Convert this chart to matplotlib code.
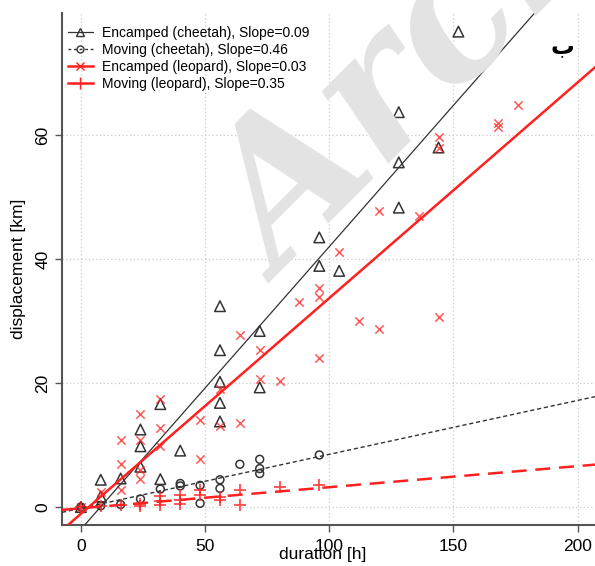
import matplotlib
matplotlib.use('Agg')
import matplotlib.pyplot as plt
from matplotlib.lines import Line2D
import numpy as np

plt.rcParams['font.family'] = ['Liberation Sans', 'DejaVu Sans']

# Datos

# Encamped (cheetah) - triangulos
dur_enc_cheetah = [0, 8, 8, 16, 24, 24, 24, 32, 32, 40, 56, 56, 56, 56, 56,
                   72, 72, 96, 96, 104, 128, 128, 128, 144, 152]
disp_enc_cheetah = [0, 4.4, 1.7, 4.6, 12.5, 9.8, 6.5, 16.6, 4.5, 9.1, 32.4, 25.3,
                    20.2, 16.8, 13.8, 28.4, 19.3, 43.5, 38.9, 38.1, 63.7, 55.6,
                    48.3, 58.0, 76.7]

# Moving (cheetah) - circulos
dur_mov_cheetah = [0, 8, 16, 24, 32, 40, 40, 48, 48, 56, 56, 64, 72, 72, 72, 96]
disp_mov_cheetah = [0, 0.2, 0.4, 1.3, 2.9, 3.8, 3.4, 3.5, 0.6, 4.4, 3.0, 6.9,
                    7.7, 6.2, 5.4, 8.4]

# Encamped (leopard) - x
dur_enc_leopard = [0, 8, 16, 16, 16, 24, 24, 24, 24, 32, 32, 32, 48, 48, 56, 56,
                   64, 64, 72, 72, 80, 88, 96, 96, 96, 104, 112, 120, 120, 136,
                   144, 144, 144, 168, 168, 176]
disp_enc_leopard = [0, 2.5, 10.8, 6.9, 2.7, 15.0, 10.8, 6.0, 4.5, 17.4, 12.7,
                    9.8, 14.1, 7.7, 19.1, 13.0, 27.7, 13.6, 25.3, 20.6, 20.3,
                    33.0, 35.4, 33.9, 24.0, 41.1, 30.0, 47.7, 28.8, 46.9, 59.7,
                    58.0, 30.7, 62.0, 61.3, 64.8]

# Moving (leopard) - +
dur_mov_leopard = [0, 8, 16, 24, 24, 32, 32, 32, 40, 40, 40, 48, 48, 56, 56,
                   64, 64, 80, 96]
disp_mov_leopard = [0, 0.1, 0.4, 0.5, 0.1, 1.7, 1.0, 0.3, 2.0, 1.2, 0.5, 2.7,
                    1.9, 1.6, 1.1, 2.7, 0.3, 3.3, 3.5]

# Rectas ajustadas (pendiente, intercepto)
pendientes = [0.456, 0.087, 0.348, 0.034]
interceptos = [-3.6, -0.2, -1.1, -0.2]

etiquetas = ['Encamped (cheetah), Slope=0.09',
             'Moving (cheetah), Slope=0.46',
             'Encamped (leopard), Slope=0.03',
             'Moving (leopard), Slope=0.35']

x_ticks = [0, 50, 100, 150, 200]
y_ticks = [0, 20, 40, 60]

# Figura

fig = plt.figure(figsize=(5.95, 5.66), dpi=100)
ax = fig.add_axes([62/595, 1 - 525/566, 1 - 62/595, (525 - 13)/566])

xlim = (-7.6, 207)
ylim = (-2.9, 79.7)
ax.set_xlim(*xlim)
ax.set_ylim(*ylim)

# marca de agua
fig.text(0.475, 0.50, 'Archive of SID', rotation=45, rotation_mode='anchor',
         fontsize=135, family='DejaVu Serif', style='italic', weight='bold',
         color='#e3e3e3', ha='left', va='baseline', zorder=0)
ax.patch.set_alpha(0)

ax.grid(True, color='#cccccc', linestyle=(0, (1, 2)), linewidth=0.9)
ax.set_axisbelow(True)

gris = '#333333'
rojo = '#ff2020'

ax.scatter(dur_enc_cheetah, disp_enc_cheetah, marker='^', s=58,
           facecolors='none', edgecolors=gris, linewidths=1.1, zorder=3)
ax.scatter(dur_mov_cheetah, disp_mov_cheetah, marker='o', s=32,
           facecolors='none', edgecolors=gris, linewidths=1.1, zorder=3)
ax.scatter(dur_enc_leopard, disp_enc_leopard, marker='x', s=36,
           color=rojo, alpha=0.75, linewidths=1.1, zorder=3)
ax.scatter(dur_mov_leopard, disp_mov_leopard, marker='+', s=70,
           color=rojo, alpha=0.8, linewidths=1.3, zorder=3)

xx = np.array(xlim)
estilos = [dict(color=gris, lw=0.9, ls='-'),
           dict(color=gris, lw=1.0, ls=(0, (3, 2))),
           dict(color=rojo, lw=1.8, ls='-'),
           dict(color=rojo, lw=1.8, ls=(0, (6, 3.5)))]
for m, b, est in zip(pendientes, interceptos, estilos):
    ax.plot(xx, m * xx + b, zorder=4, **est)

manijas = [Line2D([], [], color=gris, lw=0.9, marker='^', mfc='none', ms=6),
           Line2D([], [], color=gris, lw=1.0, ls=(0, (2, 2)), marker='o', mfc='none', ms=5),
           Line2D([], [], color=rojo, lw=1.8, marker='x', ms=6),
           Line2D([], [], color=rojo, lw=1.8, marker='+', ms=9)]
ax.legend(manijas, etiquetas, loc='upper left', bbox_to_anchor=(0.0, 0.985),
          frameon=False, fontsize=10, handlelength=1.8, handletextpad=0.7,
          labelspacing=0.2, borderaxespad=0)

ax.set_xticks(x_ticks)
ax.set_yticks(y_ticks)
ax.tick_params(axis='both', labelsize=12.5, length=5, width=1, color='#555555', direction='out')
ax.tick_params(axis='x', pad=5)
for t in ax.get_yticklabels():
    t.set_rotation(90)
    t.set_va('center')

for lado in ['top', 'right']:
    ax.spines[lado].set_visible(False)
for lado in ['left', 'bottom']:
    ax.spines[lado].set_color('#555555')
    ax.spines[lado].set_linewidth(1.5)

ax.set_xlabel('duration [h]', fontsize=12.5)
ax.xaxis.set_label_coords(0.49, -0.042)
ax.set_ylabel('displacement [km]', fontsize=12.5)
ax.yaxis.set_label_coords(-0.068, 0.5)

fig.text(562/595, 1 - 46/566, 'ب', fontsize=17, weight='bold',
         family='DejaVu Sans', ha='center', va='center')

fig.savefig('out.png', dpi=100)
